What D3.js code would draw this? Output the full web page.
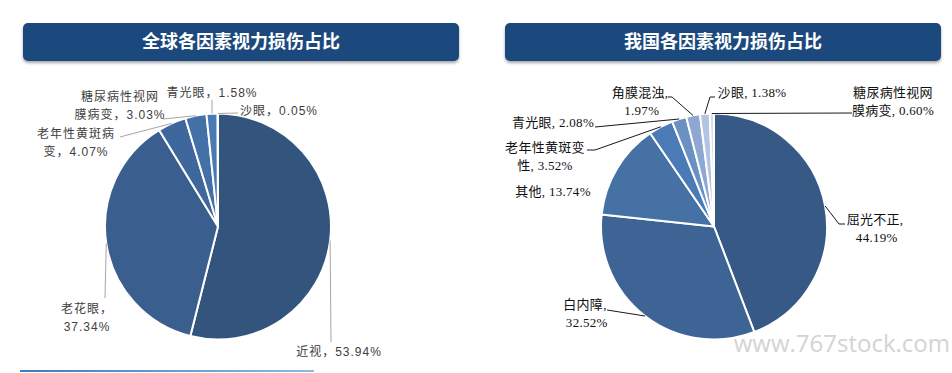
<!DOCTYPE html>
<html>
<head>
<meta charset="utf-8">
<script src="https://cdn.jsdelivr.net/npm/d3@7"></script>
<style>
  body { margin: 0; background: #fff; }
  svg { display: block; }
</style>
</head>
<body>
<svg id="chart" width="952" height="373"></svg>
<script>
// 数据
const globalLabels = ["近视", "老花眼", "老年性黄斑病变", "糖尿病性视网膜病变", "青光眼", "沙眼"]
const globalValues = [53.94, 37.34, 4.07, 3.03, 1.58, 0.05]
const globalColors = ["#33557d", "#3a5f8e", "#3e679b", "#4370a7", "#4a7ab4", "#5a88c0"]

const chinaLabels = ["屈光不正", "白内障", "其他", "老年性黄斑变性", "青光眼", "角膜混浊", "沙眼", "糖尿病性视网膜病变"]
const chinaValues = [44.19, 32.52, 13.74, 3.52, 2.08, 1.97, 1.38, 0.6]
const chinaColors = ["#375985", "#3e6496", "#4571a5", "#4b7bb6", "#6b90c2", "#8fa8d1", "#b3c4e1", "#d7dfef"]

const svg = d3.select("#chart")

const defs = svg.append("defs")
const shadow = defs.append("filter").attr("id", "shadow").attr("x", "-5%").attr("y", "-30%").attr("width", "110%").attr("height", "180%")
shadow.append("feDropShadow").attr("dx", 0).attr("dy", 2).attr("stdDeviation", 1.6).attr("flood-color", "#000").attr("flood-opacity", 0.35)

const lineGrad = defs.append("linearGradient").attr("id", "lineGrad")
lineGrad.append("stop").attr("offset", "0%").attr("stop-color", "#3c7cbf")
lineGrad.append("stop").attr("offset", "100%").attr("stop-color", "#8dbbe0")

// 标题
function drawTitle(x, w, text) {
  svg.append("rect")
    .attr("x", x).attr("y", 23).attr("width", w).attr("height", 38)
    .attr("rx", 5)
    .attr("fill", "#1f497d")
    .attr("filter", "url(#shadow)")
  svg.append("text")
    .attr("x", x + w / 2).attr("y", 42)
    .attr("dy", "0.35em")
    .attr("text-anchor", "middle")
    .attr("fill", "#fff")
    .attr("font-family", "'Noto Sans CJK SC', sans-serif")
    .attr("font-weight", "bold")
    .attr("font-size", 18)
    .text(text)
}
drawTitle(23, 436, "全球各因素视力损伤占比")
drawTitle(505, 436, "我国各因素视力损伤占比")

const pie = d3.pie().sort(null).value((d) => d)
const radius = 113

function drawPie(cx, cy, labels, values, colors, opts) {
  const g = svg.append("g").attr("transform", `translate(${cx},${cy})`)
  const arcs = pie(values)
  const arc = d3.arc().innerRadius(0).outerRadius(radius)

  g.selectAll("path.slice")
    .data(arcs)
    .enter()
    .append("path")
    .attr("class", "slice")
    .attr("d", arc)
    .attr("fill", (d, i) => colors[i])
    .attr("stroke", "#fff")
    .attr("stroke-width", 2)
    .attr("stroke-linejoin", "round")

  arcs.forEach((d, i) => {
    const lay = opts.layout[i]
    const text = labels[i] + opts.sep + d3.format(".2f")(values[i]) + "%"

    // 引导线
    if (lay.leader) {
      const mid = (d.startAngle + d.endAngle) / 2
      const start = [radius * Math.sin(mid), -radius * Math.cos(mid)]
      const pts = [start].concat(lay.leader.map((p) => [p[0] - cx, p[1] - cy]))
      g.append("path")
        .attr("d", d3.line()(pts))
        .attr("fill", "none")
        .attr("stroke", opts.leaderColor)
        .attr("stroke-width", 1)
    }

    const lines = lay.br ? [text.slice(0, lay.br), text.slice(lay.br)] : [text]
    const t = svg.append("text")
      .attr("x", lay.x).attr("y", lay.y)
      .attr("text-anchor", "middle")
      .attr("fill", opts.textColor)
      .attr("font-family", opts.font)
      .attr("font-size", opts.fontSize)
      .attr("letter-spacing", opts.spacing)
    lines.forEach((ln, k) => {
      t.append("tspan").attr("x", lay.x).attr("y", lay.y + k * 18).text(ln)
    })
  })
}

// 标签位置
const globalLayout = [
  { x: 339, y: 356, leader: [[331, 342]] },
  { x: 87, y: 313, br: 4, leader: [[105, 298]] },
  { x: 76, y: 138, br: 6, leader: [[120, 137]] },
  { x: 120, y: 101, br: 6, leader: [[163, 119]] },
  { x: 212, y: 97, leader: [[212, 100]] },
  { x: 279, y: 115, leader: [[238, 113]] },
]

const chinaLayout = [
  { x: 875, y: 224, br: 5, leader: [[839, 224], [845, 224]] },
  { x: 585, y: 309, br: 4, leader: [[607, 310]] },
  { x: 553, y: 196 },
  { x: 545, y: 152, br: 6, leader: [[595, 150], [587, 150]] },
  { x: 553, y: 127, leader: [[595, 127]] },
  { x: 640, y: 97, br: 5, leader: [[672, 97], [668, 97]] },
  { x: 752, y: 97, leader: [[710, 97], [715, 97]] },
  { x: 893, y: 97, br: 6, leader: [[852, 113]] },
]

drawPie(218, 226.5, globalLabels, globalValues, globalColors, {
  layout: globalLayout,
  sep: "，",
  leaderColor: "#a6a6a6",
  textColor: "#404040",
  font: "'Liberation Sans', 'Noto Sans CJK SC', sans-serif",
  fontSize: 12,
  spacing: 1,
})

drawPie(714, 226.5, chinaLabels, chinaValues, chinaColors, {
  layout: chinaLayout,
  sep: ", ",
  leaderColor: "#1a1a1a",
  textColor: "#111",
  font: "'Liberation Serif', 'Noto Sans CJK SC', serif",
  fontSize: 13,
  spacing: 0.3,
})

// 底部线条
svg.append("rect")
  .attr("x", 20).attr("y", 370).attr("width", 294).attr("height", 2)
  .attr("fill", "url(#lineGrad)")

// 水印
svg.append("text")
  .attr("x", 950).attr("y", 352)
  .attr("text-anchor", "end")
  .attr("fill", "#d3d3d3")
  .attr("font-family", "'Open Sans', 'DejaVu Sans', sans-serif")
  .attr("font-size", 24)
  .text("www.767stock.com")
</script>
</body>
</html>
